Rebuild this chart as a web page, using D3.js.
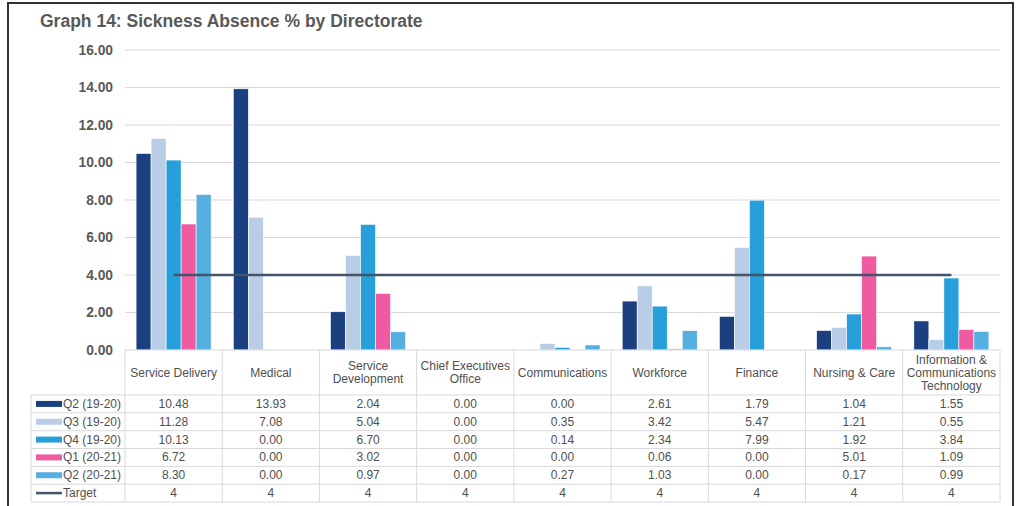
<!DOCTYPE html>
<html>
<head>
<meta charset="utf-8">
<script src="https://cdn.jsdelivr.net/npm/d3@7"></script>
<style>
  html, body { margin: 0; padding: 0; background: #fff; }
  svg { display: block; font-family: "Liberation Sans", Arial, sans-serif; }
</style>
</head>
<body>
<svg id="chart" width="1019" height="506"></svg>
<script>
// Directorates (header lines of the data table)
const categories = [
  ["Service Delivery"],
  ["Medical"],
  ["Service", "Development"],
  ["Chief Executives", "Office"],
  ["Communications"],
  ["Workforce"],
  ["Finance"],
  ["Nursing & Care"],
  ["Information &", "Communications", "Technology"]
];

// Quarterly sickness absence %
const seriesNames = ["Q2 (19-20)", "Q3 (19-20)", "Q4 (19-20)", "Q1 (20-21)", "Q2 (20-21)"];
const q2_1920 = [10.48, 13.93, 2.04, 0.00, 0.00, 2.61, 1.79, 1.04, 1.55];
const q3_1920 = [11.28, 7.08, 5.04, 0.00, 0.35, 3.42, 5.47, 1.21, 0.55];
const q4_1920 = [10.13, 0.00, 6.70, 0.00, 0.14, 2.34, 7.99, 1.92, 3.84];
const q1_2021 = [6.72, 0.00, 3.02, 0.00, 0.00, 0.06, 0.00, 5.01, 1.09];
const q2_2021 = [8.30, 0.00, 0.97, 0.00, 0.27, 1.03, 0.00, 0.17, 0.99];
const target = [4, 4, 4, 4, 4, 4, 4, 4, 4];
const yTicks = [0, 2, 4, 6, 8, 10, 12, 14, 16];

const seriesValues = [q2_1920, q3_1920, q4_1920, q1_2021, q2_2021];
const colors = ["#1b3f7f", "#b9cde6", "#279fda", "#ef5ba1", "#55b0e1"];
const targetColor = "#44546a";

const svg = d3.select("#chart");

// Outer frame
svg.append("rect")
  .attr("x", 8).attr("y", 3).attr("width", 1005).attr("height", 520)
  .attr("fill", "none").attr("stroke", "#333").attr("stroke-width", 2);

// Title
svg.append("text")
  .attr("x", 40).attr("y", 27)
  .attr("font-size", 17.5).attr("font-weight", "bold").attr("fill", "#595959")
  .text("Graph 14: Sickness Absence % by Directorate");

const plotLeft = 125, plotRight = 1000, plotTop = 50, plotBottom = 350;

const x = d3.scaleBand()
  .domain(d3.range(categories.length))
  .range([plotLeft, plotRight])
  .paddingInner(0).paddingOuter(0);

const bw = x.bandwidth();
const xInner = d3.scaleBand()
  .domain(d3.range(seriesNames.length))
  .range([bw * 0.114, bw * 0.886])
  .padding(0);

const y = d3.scaleLinear().domain([0, 16]).range([plotBottom, plotTop]);

// Gridlines
svg.append("g")
  .selectAll("line")
  .data(yTicks.filter(d => d > 0))
  .join("line")
  .attr("x1", plotLeft).attr("x2", plotRight)
  .attr("y1", d => y(d)).attr("y2", d => y(d))
  .attr("stroke", "#d9d9d9").attr("stroke-width", 1);

// Y axis labels
const yAxis = d3.axisLeft(y).tickValues(yTicks).tickFormat(d3.format(".2f")).tickSize(0).tickPadding(12);
const yg = svg.append("g").attr("transform", `translate(${plotLeft},0)`).call(yAxis);
yg.select(".domain").remove();
yg.selectAll("text")
  .attr("font-family", "Liberation Sans, Arial, sans-serif")
  .attr("font-size", 13.8).attr("font-weight", "bold").attr("fill", "#595959");

// Bars
const groups = svg.append("g")
  .selectAll("g")
  .data(categories.map((c, i) => i))
  .join("g")
  .attr("transform", i => `translate(${x(i)},0)`);

groups.selectAll("rect")
  .data(i => seriesValues.map((s, k) => ({ k, v: s[i] })))
  .join("rect")
  .attr("x", d => xInner(d.k))
  .attr("width", xInner.bandwidth())
  .attr("y", d => y(d.v))
  .attr("height", d => y(0) - y(d.v))
  .attr("fill", d => colors[d.k])
  .attr("stroke", "#fff").attr("stroke-width", 0.6);

// Target line
const line = d3.line()
  .x((d, i) => x(i) + bw / 2)
  .y(d => y(d));
svg.append("path")
  .datum(target)
  .attr("d", line)
  .attr("fill", "none")
  .attr("stroke", targetColor).attr("stroke-width", 2.5);

// Data table
const headerBottom = 395;
const tableBottom = 502;
const tableLeft = 31;
const rows = [...seriesNames, "Target"];
const rowVals = [...seriesValues, target];
const rowH = (tableBottom - headerBottom) / rows.length;
const gridColor = "#d9d9d9";
const textColor = "#505050";
const fontSize = 12;
const table = svg.append("g");

// Vertical lines of header + body
x.domain().forEach(i => {
  table.append("line")
    .attr("x1", x(i)).attr("x2", x(i))
    .attr("y1", plotBottom).attr("y2", tableBottom)
    .attr("stroke", gridColor);
});
table.append("line")
  .attr("x1", plotRight).attr("x2", plotRight)
  .attr("y1", plotBottom).attr("y2", tableBottom)
  .attr("stroke", gridColor);
table.append("line")
  .attr("x1", tableLeft).attr("x2", tableLeft)
  .attr("y1", headerBottom).attr("y2", tableBottom)
  .attr("stroke", gridColor);

// Horizontal lines
table.append("line")
  .attr("x1", plotLeft).attr("x2", plotRight)
  .attr("y1", plotBottom).attr("y2", plotBottom)
  .attr("stroke", gridColor);
d3.range(rows.length + 1).forEach(r => {
  const yy = headerBottom + r * rowH;
  table.append("line")
    .attr("x1", tableLeft).attr("x2", plotRight)
    .attr("y1", yy).attr("y2", yy)
    .attr("stroke", gridColor);
});

// Header labels
categories.forEach((lines, i) => {
  const cx = x(i) + bw / 2;
  const lh = 13;
  const cy = (plotBottom + headerBottom) / 2;
  const startY = cy - (lines.length - 1) * lh / 2 + 4;
  const t = table.append("text")
    .attr("text-anchor", "middle")
    .attr("font-size", fontSize).attr("fill", textColor);
  lines.forEach((ln, j) => {
    t.append("tspan").attr("x", cx).attr("y", startY + j * lh).text(ln);
  });
});

// Body rows
const fmt = d3.format(".2f");
rows.forEach((name, r) => {
  const cy = headerBottom + r * rowH + rowH / 2;
  // legend key
  if (r < seriesNames.length) {
    table.append("rect")
      .attr("x", 36).attr("y", cy - 3).attr("width", 26).attr("height", 6)
      .attr("fill", colors[r]);
  } else {
    table.append("line")
      .attr("x1", 36).attr("x2", 62).attr("y1", cy).attr("y2", cy)
      .attr("stroke", targetColor).attr("stroke-width", 2.5);
  }
  table.append("text")
    .attr("x", 63).attr("y", cy + 4)
    .attr("font-size", fontSize).attr("fill", textColor)
    .text(name);
  rowVals[r].forEach((v, i) => {
    table.append("text")
      .attr("x", x(i) + bw / 2).attr("y", cy + 4)
      .attr("text-anchor", "middle")
      .attr("font-size", fontSize).attr("fill", textColor)
      .text(r < seriesNames.length ? fmt(v) : v);
  });
});
</script>
</body>
</html>
